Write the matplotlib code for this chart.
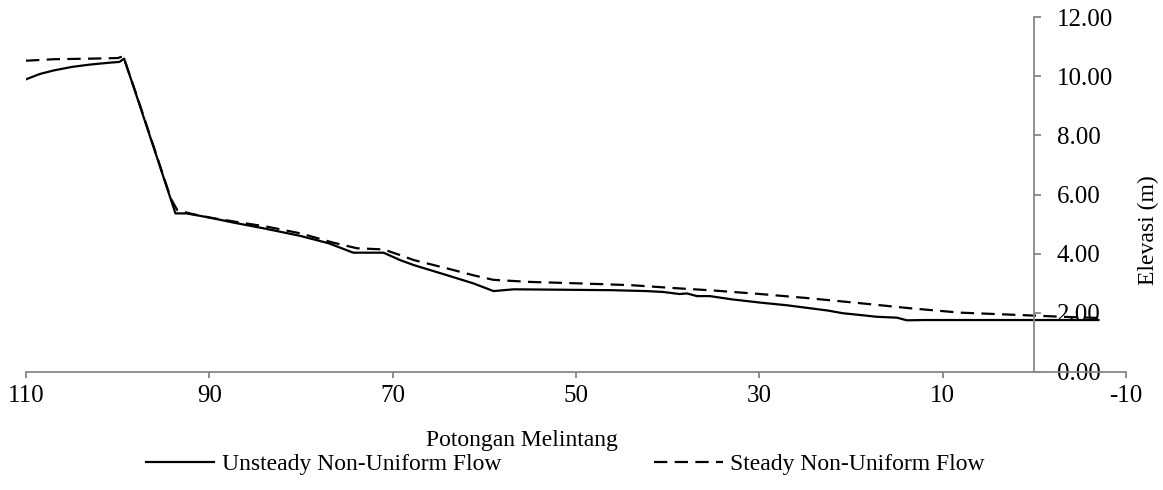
import numpy as np
import matplotlib
matplotlib.use("Agg")
import matplotlib.pyplot as plt

plt.rcParams['font.family'] = ['Liberation Serif', 'DejaVu Serif']
plt.rcParams['font.size'] = 18
plt.rcParams['axes.unicode_minus'] = False

# cross section number vs water surface elevation (m)
x_unsteady = [110, 108.5, 107, 105, 103, 101, 99.8, 99.3, 97.9, 96, 94.2, 93.7,
              92.5, 90, 87.4, 84, 80.1, 77, 74.3, 71.0, 69.2, 67.7, 64.1,
              61.2, 59.0, 56.8, 53, 49.6, 46, 42.3, 40.5, 38.7, 37.9, 36.8,
              35.4, 33, 29.9, 27, 24.5, 22.5, 20.9, 19, 17.2, 15.0, 13.9,
              12, 8.1, 4, 0, -3, -7]
y_unsteady = [9.90, 10.08, 10.20, 10.32, 10.40, 10.46, 10.49, 10.60, 9.30, 7.52,
              5.83, 5.36, 5.36, 5.22, 5.05, 4.85, 4.60, 4.35, 4.03, 4.03,
              3.78, 3.61, 3.27, 2.99, 2.73, 2.79, 2.78, 2.77, 2.76, 2.73,
              2.70, 2.63, 2.65, 2.56, 2.56, 2.45, 2.34, 2.25, 2.15, 2.07,
              1.98, 1.92, 1.86, 1.83, 1.74, 1.75, 1.75, 1.75, 1.75, 1.75, 1.75]

x_steady = [110, 107, 103, 100, 99.4, 97.9, 96, 94.2, 93.5, 92, 90, 87, 83.7,
            80, 76.5, 73.9, 71.0, 69.2, 67.7, 64.1, 61, 59.0, 55, 49.6, 44,
            38.7, 35, 29.9, 25, 19, 13.6, 8.1, 4, 0, -3, -7]
y_steady = [10.53, 10.58, 10.60, 10.62, 10.68, 9.33, 7.55, 5.86, 5.47, 5.35,
            5.22, 5.07, 4.91, 4.68, 4.37, 4.18, 4.14, 3.95, 3.78, 3.50, 3.25,
            3.11, 3.04, 2.99, 2.93, 2.82, 2.75, 2.63, 2.50, 2.32, 2.15, 2.00,
            1.95, 1.90, 1.86, 1.82]

xticks = [110, 90, 70, 50, 30, 10, -10]
yticks = [0, 2, 4, 6, 8, 10, 12]

axis_color = '#878787'

fig = plt.figure(figsize=(11.63, 4.9), dpi=100)
ax = fig.add_axes([0.0224, 0.2414, 0.9458, 0.7233])

l1, = ax.plot(x_unsteady, y_unsteady, color='black', lw=1.6,
              label='Unsteady Non-Uniform Flow')
l2, = ax.plot(x_steady, y_steady, color='black', lw=1.6, dashes=(6, 3.3),
              label='Steady Non-Uniform Flow')

ax.set_xlim(110, -10)
ax.set_ylim(0, 12)
ax.set_xticks(xticks)
ax.set_yticks(yticks)
ax.set_yticklabels(['%.2f' % v for v in yticks])

# vertical axis sits at cross section 0, labels on its right
ax.spines['left'].set_visible(False)
ax.spines['top'].set_visible(False)
ax.spines['right'].set_position(('data', 0))
ax.yaxis.tick_right()
for s in ('right', 'bottom'):
    ax.spines[s].set_color(axis_color)
    ax.spines[s].set_linewidth(1.3)
ax.tick_params(axis='y', direction='out', length=5, width=1.3,
               color=axis_color, pad=11)
ax.tick_params(axis='x', direction='out', length=4.5, width=1.3,
               color=axis_color, pad=5)

fig.text(1148 / 1163, 0.5 + 0.03, 'Elevasi (m)', rotation=90,
         ha='center', va='center', fontsize=17)
fig.text(0.449, 1 - 440 / 490, 'Potongan Melintang', ha='center', va='center',
         fontsize=17)

fig.legend(handles=[l1, l2], loc='center left', bbox_to_anchor=(0.1255, 0.053),
           ncol=2, frameon=False, handlelength=2.9, handletextpad=0.3,
           columnspacing=6.5, borderpad=0, borderaxespad=0, fontsize=17)

fig.savefig('out.png', dpi=100)
